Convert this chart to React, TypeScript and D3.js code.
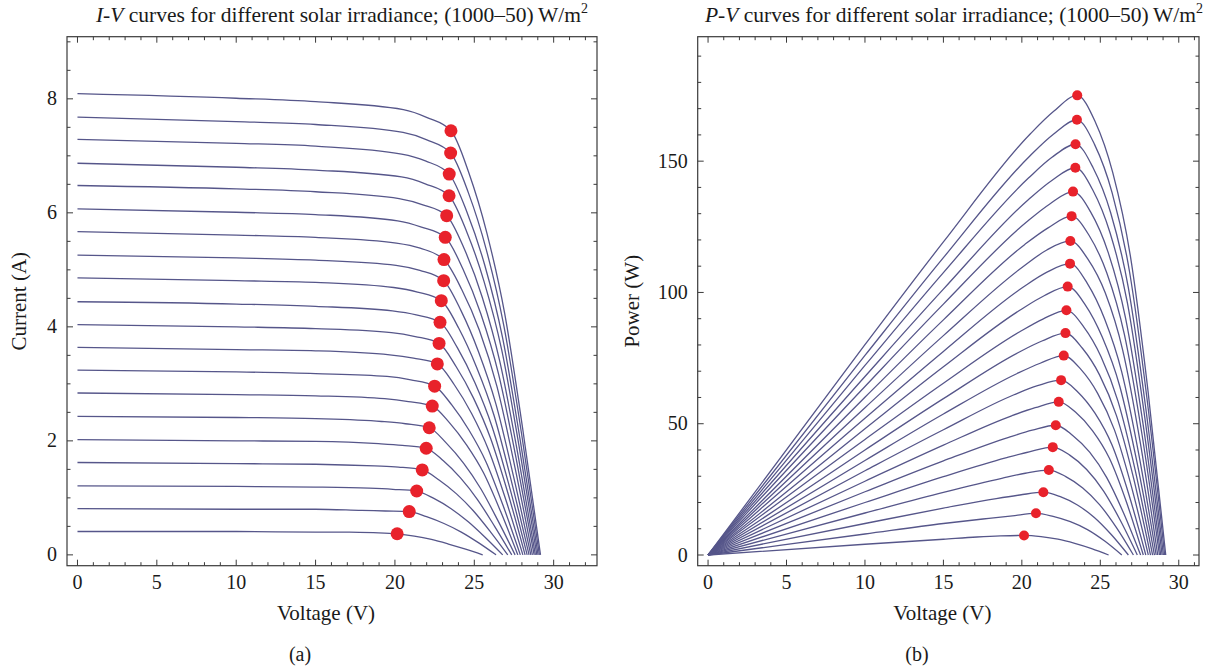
import React from 'react';
import * as d3 from 'd3';

type Pt = [number, number];

// Solar irradiance levels (W/m^2), one I-V curve each
const irradiance = [1000, 950, 900, 850, 800, 750, 700, 650, 600, 550, 500, 450, 400, 350, 300, 250, 200, 150, 100, 50];

// I-V curves: [voltage (V), current (A)]
const iv1000: Pt[] = [[0, 8.09], [10, 8.01], [15, 7.95], [20.53, 7.81], [22.03, 7.67], [23.53, 7.44], [24.66, 6.70], [25.79, 5.65], [26.91, 4.24], [28.04, 2.23], [29.17, 0]];
const iv950: Pt[] = [[0, 7.68], [10, 7.60], [15, 7.55], [20.51, 7.41], [22.01, 7.28], [23.51, 7.05], [24.63, 6.35], [25.75, 5.36], [26.86, 4.02], [27.98, 2.12], [29.10, 0]];
const iv900: Pt[] = [[0, 7.29], [10, 7.22], [15, 7.17], [20.42, 7.03], [21.92, 6.91], [23.42, 6.68], [24.54, 6.01], [25.66, 5.08], [26.78, 3.81], [27.90, 2.00], [29.02, 0]];
const iv850: Pt[] = [[0, 6.87], [10, 6.80], [15, 6.75], [20.41, 6.63], [21.91, 6.51], [23.41, 6.30], [24.52, 5.67], [25.62, 4.79], [26.73, 3.59], [27.83, 1.89], [28.94, 0]];
const iv800: Pt[] = [[0, 6.48], [10, 6.42], [15, 6.37], [20.26, 6.25], [21.76, 6.14], [23.26, 5.95], [24.38, 5.36], [25.50, 4.52], [26.61, 3.39], [27.73, 1.79], [28.85, 0]];
const iv750: Pt[] = [[0, 6.07], [10, 6.01], [15, 5.97], [20.17, 5.86], [21.67, 5.75], [23.17, 5.57], [24.29, 5.01], [25.41, 4.23], [26.53, 3.17], [27.65, 1.67], [28.77, 0]];
const iv700: Pt[] = [[0, 5.67], [10, 5.61], [15, 5.57], [20.09, 5.47], [21.59, 5.38], [23.09, 5.18], [24.20, 4.66], [25.32, 3.94], [26.43, 2.95], [27.55, 1.55], [28.66, 0]];
const iv650: Pt[] = [[0, 5.26], [10, 5.21], [15, 5.17], [20.07, 5.08], [21.57, 4.99], [23.07, 4.81], [24.17, 4.28], [25.27, 3.56], [26.36, 2.65], [27.46, 1.39], [28.56, 0]];
const iv600: Pt[] = [[0, 4.86], [10, 4.81], [15, 4.78], [19.92, 4.69], [21.42, 4.61], [22.92, 4.46], [24.03, 3.97], [25.13, 3.30], [26.24, 2.45], [27.34, 1.29], [28.45, 0]];
const iv550: Pt[] = [[0, 4.44], [10, 4.40], [15, 4.36], [19.84, 4.28], [21.34, 4.21], [22.84, 4.08], [23.94, 3.63], [25.04, 3.02], [26.13, 2.24], [27.23, 1.18], [28.33, 0]];
const iv500: Pt[] = [[0, 4.04], [10, 4.00], [15, 3.97], [19.78, 3.90], [21.28, 3.83], [22.78, 3.71], [23.86, 3.30], [24.95, 2.75], [26.03, 2.04], [27.12, 1.08], [28.20, 0]];
const iv450: Pt[] = [[0, 3.64], [10, 3.60], [15, 3.58], [19.67, 3.51], [21.17, 3.45], [22.67, 3.35], [23.75, 2.98], [24.83, 2.48], [25.90, 1.84], [26.98, 0.97], [28.06, 0]];
const iv400: Pt[] = [[0, 3.24], [10, 3.21], [15, 3.18], [19.50, 3.13], [21.00, 3.07], [22.50, 2.96], [23.58, 2.63], [24.66, 2.19], [25.74, 1.63], [26.82, 0.86], [27.90, 0]];
const iv350: Pt[] = [[0, 2.84], [10, 2.81], [15, 2.79], [19.35, 2.74], [20.85, 2.69], [22.35, 2.61], [23.43, 2.32], [24.51, 1.93], [25.58, 1.44], [26.66, 0.76], [27.74, 0]];
const iv300: Pt[] = [[0, 2.43], [10, 2.41], [15, 2.39], [19.16, 2.34], [20.66, 2.30], [22.16, 2.23], [23.24, 1.96], [24.32, 1.61], [25.41, 1.16], [26.49, 0.60], [27.57, 0]];
const iv250: Pt[] = [[0, 2.02], [10, 2.00], [15, 1.99], [18.97, 1.95], [20.47, 1.92], [21.97, 1.87], [23.05, 1.65], [24.13, 1.35], [25.20, 0.97], [26.28, 0.50], [27.36, 0]];
const iv200: Pt[] = [[0, 1.62], [10, 1.60], [15, 1.59], [18.72, 1.56], [20.22, 1.54], [21.72, 1.49], [22.80, 1.31], [23.88, 1.07], [24.95, 0.77], [26.03, 0.40], [27.11, 0]];
const iv150: Pt[] = [[0, 1.21], [10, 1.20], [15, 1.19], [18.37, 1.17], [19.87, 1.15], [21.37, 1.12], [22.45, 0.99], [23.54, 0.81], [24.62, 0.58], [25.71, 0.30], [26.79, 0]];
const iv100: Pt[] = [[0, 0.81], [10, 0.80], [15, 0.80], [17.90, 0.78], [19.40, 0.77], [20.90, 0.76], [21.99, 0.67], [23.09, 0.55], [24.18, 0.40], [25.28, 0.21], [26.37, 0]];
const iv50: Pt[] = [[0, 0.41], [10, 0.41], [15, 0.40], [17.14, 0.40], [18.64, 0.39], [20.14, 0.37], [21.22, 0.33], [22.30, 0.27], [23.37, 0.19], [24.45, 0.10], [25.53, 0]];

const ivCurves: Pt[][] = [iv1000, iv950, iv900, iv850, iv800, iv750, iv700, iv650, iv600, iv550, iv500, iv450, iv400, iv350, iv300, iv250, iv200, iv150, iv100, iv50];

// Maximum power points (red dots)
const mppVoltage = [23.53, 23.51, 23.42, 23.41, 23.26, 23.17, 23.09, 23.07, 22.92, 22.84, 22.78, 22.67, 22.50, 22.35, 22.16, 21.97, 21.72, 21.37, 20.90, 20.14];
const mppCurrent = [7.44, 7.05, 6.68, 6.30, 5.95, 5.57, 5.18, 4.81, 4.46, 4.08, 3.71, 3.35, 2.96, 2.61, 2.23, 1.87, 1.49, 1.12, 0.76, 0.37];

// Tick labels
const voltageTicks = [0, 5, 10, 15, 20, 25, 30];
const currentTicks = [0, 2, 4, 6, 8];
const powerTicks = [0, 50, 100, 150];

const LINE = '#56568a';
const DOT = '#e8222b';
const FRAME = '#3a3a3a';
const TEXT = '#1a1a1a';
const FONT = '"Liberation Serif", "DejaVu Serif", serif';

interface PanelProps {
  left: number; right: number; top: number; bottom: number;
  xDomain: [number, number]; yDomain: [number, number];
  curves: Pt[][]; dots: Pt[]; dotR: number;
  xMajor: number[]; xMinor: number[]; yMajor: number[]; yMinor: number[];
  yLabel: string; yLabelX: number;
  title: React.ReactNode; titleX: number; caption: string; captionX: number;
}

function Panel(p: PanelProps) {
  const x = d3.scaleLinear().domain(p.xDomain).range([p.left, p.right]);
  const y = d3.scaleLinear().domain(p.yDomain).range([p.bottom, p.top]);
  const line = d3.line<Pt>().x(d => x(d[0])).y(d => y(d[1])).curve(d3.curveMonotoneX);
  const cx = (p.left + p.right) / 2;
  const cy = (p.top + p.bottom) / 2;
  const MAJ = 6, MIN = 3.5;
  return (
    <g>
      <text x={p.titleX} y={22} textAnchor="middle" fontFamily={FONT} fontSize={21.5} fill={TEXT}>{p.title}</text>
      {p.curves.map((c, i) => (
        <path key={i} d={line(c) || ''} fill="none" stroke={LINE} strokeWidth={1.3} />
      ))}
      {p.dots.map((d, i) => (
        <circle key={i} cx={x(d[0])} cy={y(d[1])} r={p.dotR} fill={DOT} />
      ))}
      <rect x={p.left} y={p.top} width={p.right - p.left} height={p.bottom - p.top} fill="none" stroke={FRAME} strokeWidth={1.2} />
      {p.xMinor.map(v => (
        <g key={'xm' + v}>
          <line x1={x(v)} x2={x(v)} y1={p.bottom} y2={p.bottom - MIN} stroke={FRAME} />
          <line x1={x(v)} x2={x(v)} y1={p.top} y2={p.top + MIN} stroke={FRAME} />
        </g>
      ))}
      {p.xMajor.map(v => (
        <g key={'xM' + v}>
          <line x1={x(v)} x2={x(v)} y1={p.bottom} y2={p.bottom - MAJ} stroke={FRAME} />
          <line x1={x(v)} x2={x(v)} y1={p.top} y2={p.top + MAJ} stroke={FRAME} />
          <text x={x(v)} y={p.bottom + 23} textAnchor="middle" fontFamily={FONT} fontSize={20} fill={TEXT}>{v}</text>
        </g>
      ))}
      {p.yMinor.map(v => (
        <g key={'ym' + v}>
          <line x1={p.left} x2={p.left + MIN} y1={y(v)} y2={y(v)} stroke={FRAME} />
          <line x1={p.right} x2={p.right - MIN} y1={y(v)} y2={y(v)} stroke={FRAME} />
        </g>
      ))}
      {p.yMajor.map(v => (
        <g key={'yM' + v}>
          <line x1={p.left} x2={p.left + MAJ} y1={y(v)} y2={y(v)} stroke={FRAME} />
          <line x1={p.right} x2={p.right - MAJ} y1={y(v)} y2={y(v)} stroke={FRAME} />
          <text x={p.left - 10} y={y(v) + 6.5} textAnchor="end" fontFamily={FONT} fontSize={20} fill={TEXT}>{v}</text>
        </g>
      ))}
      <text x={cx - 6} y={620} textAnchor="middle" fontFamily={FONT} fontSize={21} fill={TEXT}>Voltage (V)</text>
      <text transform={`translate(${p.yLabelX},${cy}) rotate(-90)`} textAnchor="middle" fontFamily={FONT} fontSize={21} fill={TEXT}>{p.yLabel}</text>
      <text x={p.captionX} y={661} textAnchor="middle" fontFamily={FONT} fontSize={20} fill={TEXT}>{p.caption}</text>
    </g>
  );
}

export default function App() {
  const pvCurves: Pt[][] = ivCurves.map(c => c.map(([v, i]) => [v, v * i] as Pt));
  const ivDots: Pt[] = mppVoltage.map((v, k) => [v, mppCurrent[k]]);
  const pvDots: Pt[] = mppVoltage.map((v, k) => [v, v * mppCurrent[k]]);
  const xMinor = d3.range(0, 33, 1).filter(v => v % 5 !== 0);
  const title = (kind: string) => (
    <>
      <tspan fontStyle="italic">{kind[0]}</tspan>-<tspan fontStyle="italic">{kind[2]}</tspan>
      {' curves for different solar irradiance; (1000–50)\u2009W/m'}
      <tspan dy={-9} fontSize={14}>2</tspan>
    </>
  );
  return (
    <svg width={1231} height={672} style={{ position: 'absolute', left: 0, top: 0, background: '#fff' }}>
      <Panel
        left={67} right={597} top={36.7} bottom={565.7}
        xDomain={[-0.66, 32.73]} yDomain={[-0.19, 9.09]}
        curves={ivCurves} dots={ivDots} dotR={6.5}
        xMajor={voltageTicks} xMinor={xMinor}
        yMajor={currentTicks} yMinor={d3.range(0, 9.01, 0.5).filter(v => v % 2 !== 0)}
        yLabel="Current (A)" yLabelX={26}
        title={title('I-V')} titleX={342} caption="(a)" captionX={300}
      />
      <Panel
        left={697.7} right={1199} top={36.7} bottom={565.7}
        xDomain={[-0.66, 31.29]} yDomain={[-4.07, 197.4]}
        curves={pvCurves} dots={pvDots} dotR={5}
        xMajor={voltageTicks} xMinor={xMinor.filter(v => v <= 31)}
        yMajor={powerTicks} yMinor={d3.range(0, 191, 10).filter(v => v % 50 !== 0)}
        yLabel="Power (W)" yLabelX={639}
        title={title('P-V')} titleX={954} caption="(b)" captionX={917}
      />
      <text style={{ display: 'none' }}>{irradiance.join(',')}</text>
    </svg>
  );
}
